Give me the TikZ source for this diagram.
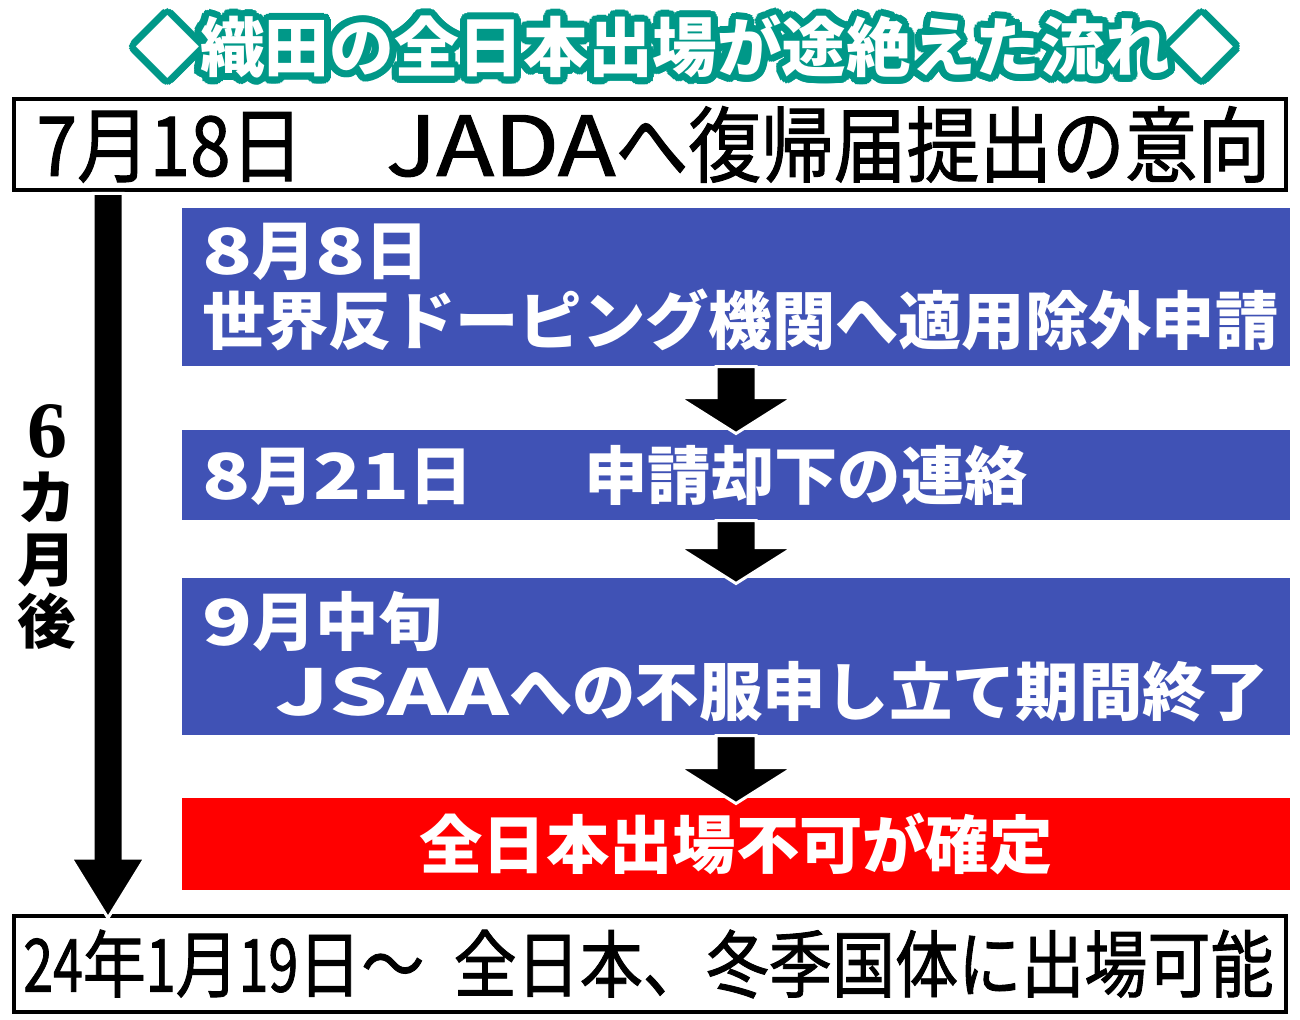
\documentclass[tikz,border=0pt]{standalone}
\usepackage{fontspec}
\usepackage{graphicx}
\usetikzlibrary{calc}

\newfontfamily\jp{Noto Sans CJK JP}
\newfontfamily\jpmed{Noto Sans CJK JP}[FakeStretch=0.88, FakeBold=1.2]
\newfontfamily\jpnarrow{Noto Sans CJK JP}[FakeStretch=0.86, FakeBold=1.2]
\newfontfamily\serifsix{Liberation Serif}

\definecolor{titlegreen}{RGB}{0,152,136}
\definecolor{boxblue}{RGB}{64,82,181}
\definecolor{alertred}{RGB}{255,0,0}

\newcommand{\wider}[2]{\scalebox{#1}[1]{#2}}

\tikzset{every picture/.style={line width=0.75pt}}
\tikzset{
	titlefont/.style={font=\jp\bfseries\fontsize{48.5pt}{52pt}\selectfont, inner sep=0pt},
	plainbox/.style={draw=black, line width=3pt, fill=white, minimum width=954pt, text width=920pt, inner xsep=17pt, inner ysep=0pt, align=left},
	bluebox/.style={fill=boxblue, text=white, minimum width=831pt, text width=801pt, inner xsep=15pt, inner ysep=0pt, align=left, font=\jp\bfseries\fontsize{47.5pt}{52.5pt}\selectfont},
	redbox/.style={bluebox, fill=alertred, align=center},
	block arrow/.style n args={4}{fill=black, draw=white, line width=2.25pt, line join=miter,
		to path={+(-#1,0) -- +(#1,0) -- ([shift={(#1,#4-#3)}]\tikztotarget) -- ([shift={(#2,#4-#3)}]\tikztotarget) -- ([shift={(0,#4)}]\tikztotarget) -- ([shift={(-#2,#4-#3)}]\tikztotarget) -- ([shift={(-#1,#4-#3)}]\tikztotarget) -- cycle}}
}

\begin{document}
\begin{tikzpicture}[x=0.75pt,y=0.75pt,yscale=-1,xscale=1]
	\useasboundingbox (0,0) rectangle (1300,1020);

	%Title with outline
	\foreach \a in {0,15,...,345}
		\node[titlefont, text=titlegreen] at ($(685,47)+(\a:7)$) {◆織田の全日本出場が途絶えた流れ◆};
	\node[titlefont, text=white] (title) at (685,47) {◆織田の全日本出場が途絶えた流れ◆};

	%Top and bottom boxes
	\node[plainbox, minimum height=68.25pt, font=\jpmed\fontsize{62pt}{64pt}\selectfont] (start) at (650,144.5) {7月18日\hspace{62pt}\wider{1.3}{JADA}へ復帰届提出の意向};
	\node[plainbox, minimum height=72pt, inner xsep=7pt, text width=940pt, font=\jpnarrow\fontsize{55pt}{60pt}\selectfont] (finish) at (650,964) {\wider{0.85}{24}年\wider{0.85}{1}月\wider{0.85}{19}日～\hspace{22pt}全日本、冬季国体に出場可能};

	%Steps
	\node[bluebox, minimum height=118.5pt] (wada) at (736,287) {\wider{1.3}{8}月\wider{1.3}{8}日\\世界反ドーピング機関へ適用除外申請};
	\node[bluebox, minimum height=67.5pt] (reject) at (736,475) {\makebox[287pt][l]{\wider{1.25}{8}月\wider{1.25}{21}日}申請却下の連絡};
	\node[bluebox, minimum height=117.75pt] (jsaa) at (736,656.5) {\wider{1.3}{9}月中旬\\\hspace*{55pt}\wider{1.45}{JSAA}への不服申し立て期間終了};
	\node[redbox, minimum height=69pt] (fixed) at (736,844) {全日本出場不可が確定};

	%Side label
	\node[align=center, inner sep=0pt, font=\jp\bfseries\fontsize{44pt}{46.5pt}\selectfont] (months) at (47,527) {{\serifsix\bfseries\fontsize{60pt}{46.5pt}\selectfont 6}\\カ\\月\\後};

	%Block arrows
	\coordinate (spanstart) at (108,193.5);
	\coordinate (spanend) at (108,916);
	\draw[block arrow={15}{37}{60}{2}] (spanstart) to (spanend);
	\draw[block arrow={20}{57}{36}{4}] (wada.south) to (reject.north);
	\draw[block arrow={20}{57}{36}{6}] (reject.south) to (jsaa.north);
	\draw[block arrow={20}{57}{36}{6}] (jsaa.south) to (fixed.north);

\end{tikzpicture}
\end{document}
